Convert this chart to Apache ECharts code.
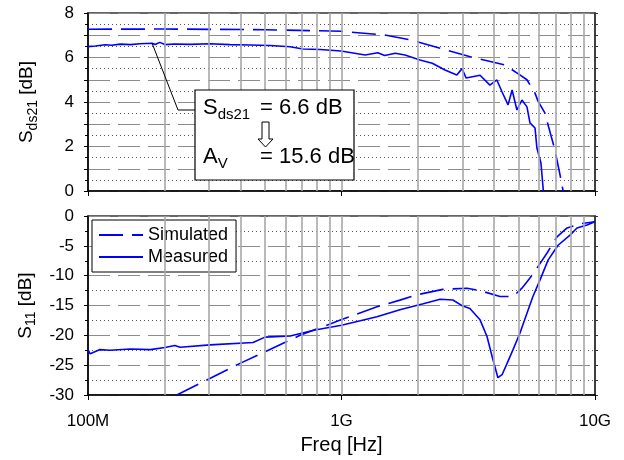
<!DOCTYPE html>
<html>
<head>
<meta charset="utf-8">
<script src="https://cdn.jsdelivr.net/npm/echarts@6/dist/echarts.min.js"></script>
<style>
html, body { margin: 0; padding: 0; background: #fff; }
#chart { width: 624px; height: 460px; }
</style>
</head>
<body>
<div id="chart"></div>
<script>
// S_ds21 (top panel)
var simTopFreq = [1e8, 2e8, 5e8, 1e9, 1.5e9, 1.86e9, 2.56e9, 3.3e9, 4.42e9, 5.0e9, 5.39e9, 5.8e9, 5.96e9, 6.35e9, 6.53e9, 6.95e9, 7.28e9, 7.6e9];
var simTopVal  = [7.27, 7.28, 7.25, 7.18, 7.0, 6.8, 6.35, 6.0, 5.66, 5.25, 5.0, 4.4, 4.04, 3.5, 2.97, 1.84, 0.72, -0.4];

var measTopFreq = [1e8, 1.07e8, 1.17e8, 1.24e8, 1.34e8, 1.47e8, 1.6e8, 1.79e8, 1.84e8, 1.92e8, 2.01e8, 2.2e8, 2.52e8, 3.03e8, 3.63e8, 4.36e8, 5.22e8, 6.27e8, 7.05e8, 8.23e8, 9.95e8,
                   1.24e9, 1.39e9, 1.48e9, 1.63e9, 1.78e9, 2.04e9, 2.28e9, 2.56e9, 2.85e9, 2.99e9, 3.1e9, 3.52e9, 3.85e9, 4.1e9, 4.3e9, 4.54e9, 4.71e9, 4.92e9, 5.15e9, 5.39e9, 5.54e9, 5.8e9, 5.9e9, 6.12e9, 6.3e9];
var measTopVal  = [6.49, 6.52, 6.57, 6.55, 6.6, 6.58, 6.62, 6.64, 6.58, 6.68, 6.58, 6.61, 6.59, 6.62, 6.58, 6.56, 6.54, 6.48, 6.38, 6.36, 6.29,
                   6.11, 6.21, 6.09, 6.19, 6.11, 5.89, 5.74, 5.44, 5.21, 5.5, 5.08, 5.2, 4.76, 4.99, 4.45, 3.87, 4.54, 3.64, 4.09, 3.78, 3.06, 2.83, 1.93, 1.26, -0.4];

// S11 (bottom panel)
var simBotFreq = [2.24e8, 3.98e8, 6.86e8, 9.95e8, 1.38e9, 1.7e9, 1.99e9, 2.51e9, 3.13e9, 3.52e9, 4.22e9, 4.75e9, 5.15e9, 5.54e9, 5.91e9, 6.47e9, 7.08e9, 7.76e9, 8.74e9, 1e10];
var simBotVal  = [-30, -24.7, -20.0, -17.4, -15.2, -14.1, -13.2, -12.3, -12.1, -12.5, -13.5, -13.5, -12.1, -10.4, -8.7, -6.2, -3.5, -2.0, -1.3, -0.95];

var measBotFreq = [1e8, 1.02e8, 1.11e8, 1.22e8, 1.47e8, 1.76e8, 2.01e8, 2.2e8, 2.31e8, 3.03e8, 4.48e8, 4.99e8, 6.27e8, 7.86e8, 1e9, 1.38e9, 1.7e9, 2.1e9, 2.45e9, 2.75e9, 3.01e9, 3.21e9,
                   3.52e9, 3.75e9, 3.93e9, 4.14e9, 4.3e9, 4.5e9, 4.75e9, 5.06e9, 5.39e9, 5.69e9, 6.07e9, 6.53e9, 7.15e9, 7.97e9, 8.49e9, 9.3e9, 1e10];
var measBotVal  = [-22.4, -23.1, -22.4, -22.5, -22.3, -22.4, -22.05, -21.7, -22.0, -21.6, -21.2, -20.3, -20.1, -19.1, -18.3, -16.9, -15.7, -14.7, -13.95, -14.07, -15.1, -15.5,
                   -17.4, -20.2, -23.6, -27.1, -26.6, -24.7, -22.4, -19.6, -16.3, -13.5, -10.7, -7.4, -4.9, -3.2, -2.0, -1.5, -0.95];

// vertical grid positions (2..9 x decade)
var gridFreqs = [2e8, 3e8, 4e8, 5e8, 6e8, 7e8, 8e8, 9e8, 1e9, 2e9, 3e9, 4e9, 5e9, 6e9, 7e9, 8e9, 9e9];
var xTickLabels = { 1e8: '100M', 1e9: '1G', 1e10: '10G' };

var font = 'Liberation Sans, Arial, sans-serif';
var blue = '#0000ff';

function zip(xs, ys) {
	var out = [];
	for (var i = 0; i < xs.length; i++) out.push([xs[i], ys[i]]);
	return out;
}

function vLines() {
	var d = [];
	for (var i = 0; i < gridFreqs.length; i++) d.push({ xAxis: gridFreqs[i] });
	return d;
}

var myChart = echarts.init(document.getElementById('chart'));

var xBase = function(idx, showLabel) {
	return {
		type: 'log', logBase: 10, gridIndex: idx, min: 1e8, max: 1e10,
		axisLine: { show: true, onZero: false, lineStyle: { color: '#000', width: 1.5 } },
		axisTick: { show: true, length: 5, lineStyle: { color: '#000' } },
		splitLine: { show: false },
		axisLabel: {
			show: showLabel, margin: 18, color: '#000', fontSize: 17, fontFamily: font,
			formatter: function(v) { return xTickLabels[Math.round(v)] || ''; }
		},
		name: showLabel ? 'Freq [Hz]' : '',
		nameLocation: 'middle', nameGap: 40,
		nameTextStyle: { color: '#000', fontSize: 20, fontFamily: font }
	};
};

var yBase = function(idx, min, max, step, labelStep, name) {
	return {
		type: 'value', gridIndex: idx, min: min, max: max, interval: step,
		axisLine: { show: true, lineStyle: { color: '#000', width: 1.5 } },
		axisTick: { show: true, length: 4, lineStyle: { color: '#000' } },
		minorTick: { show: true, splitNumber: 2, length: 3, lineStyle: { color: '#000' } },
		splitLine: { show: true, lineStyle: { color: '#8c8c8c', width: 1.2, type: [22, 8] } },
		minorSplitLine: { show: true, lineStyle: { color: '#555', width: 1, type: [1, 3] } },
		axisLabel: {
			margin: 14, color: '#000', fontSize: 17, fontFamily: font,
			formatter: function(v) { return (Math.round(v) % labelStep === 0) ? String(v) : ''; }
		},
		name: name,
		nameLocation: 'middle', nameGap: 48,
		nameTextStyle: {
			color: '#000', fontFamily: font,
			rich: {
				m: { fontSize: 19, lineHeight: 26, fontFamily: font, color: '#000' },
				s: { fontSize: 14, lineHeight: 13, verticalAlign: 'bottom', fontFamily: font, color: '#000' }
			}
		}
	};
};

var yRight = function(idx, min, max, step) {
	return {
		type: 'value', gridIndex: idx, min: min, max: max, interval: step, position: 'right',
		axisLine: { show: true, lineStyle: { color: '#333', width: 1.5 } },
		axisTick: { show: true, length: 3, lineStyle: { color: '#333' } },
		minorTick: { show: true, splitNumber: 2, length: 3, lineStyle: { color: '#333' } },
		splitLine: { show: false },
		axisLabel: { show: false }
	};
};

var subRich = {
	m: { fontSize: 22, lineHeight: 28, fontFamily: font },
	s: { fontSize: 15, lineHeight: 13, verticalAlign: 'bottom', fontFamily: font }
};

var option = {
	animation: false,
	backgroundColor: '#fff',
	grid: [
		{ left: 88, right: 29, top: 13, height: 178, show: true, borderColor: '#333', borderWidth: 1.5 },
		{ left: 88, right: 29, top: 216, height: 179, show: true, borderColor: '#333', borderWidth: 1.5 }
	],
	xAxis: [xBase(0, false), xBase(1, true)],
	yAxis: [
		yBase(0, 0, 8, 1, 2, '{m|S}{s|ds21}{m| [dB]}'),
		yBase(1, -30, 0, 5, 5, '{m|S}{s|11}{m| [dB]}'),
		yRight(0, 0, 8, 1),
		yRight(1, -30, 0, 5)
	],
	legend: {
		data: ['Simulated', 'Measured'],
		orient: 'vertical', left: 92, top: 220,
		itemWidth: 44, itemHeight: 14, itemGap: 4,
		padding: [6, 8, 6, 6],
		borderColor: '#000', borderWidth: 1, backgroundColor: '#fff',
		itemStyle: { opacity: 0 },
		textStyle: { color: '#000', fontSize: 18, fontFamily: font }
	},
	series: [
		{
			name: 'grid-top', type: 'line', xAxisIndex: 0, yAxisIndex: 0, data: [], z: 1, silent: true,
			markLine: { silent: true, symbol: 'none', label: { show: false },
				lineStyle: { color: '#a8a8a8', width: 1.6, type: 'solid' }, data: vLines() }
		},
		{
			name: 'grid-bot', type: 'line', xAxisIndex: 1, yAxisIndex: 1, data: [], z: 1, silent: true,
			markLine: { silent: true, symbol: 'none', label: { show: false },
				lineStyle: { color: '#a8a8a8', width: 1.6, type: 'solid' }, data: vLines() }
		},
		{
			name: 'Simulated', type: 'line', xAxisIndex: 0, yAxisIndex: 0, showSymbol: false, symbol: 'none',
			lineStyle: { color: blue, width: 1.6, type: [24, 9] }, itemStyle: { color: blue },
			data: zip(simTopFreq, simTopVal)
		},
		{
			name: 'Measured', type: 'line', xAxisIndex: 0, yAxisIndex: 0, showSymbol: false, symbol: 'none',
			lineStyle: { color: blue, width: 1.6 }, itemStyle: { color: blue },
			data: zip(measTopFreq, measTopVal)
		},
		{
			name: 'Simulated', type: 'line', xAxisIndex: 1, yAxisIndex: 1, showSymbol: false, symbol: 'none',
			lineStyle: { color: blue, width: 1.6, type: [24, 9] }, itemStyle: { color: blue },
			data: zip(simBotFreq, simBotVal)
		},
		{
			name: 'Measured', type: 'line', xAxisIndex: 1, yAxisIndex: 1, showSymbol: false, symbol: 'none',
			lineStyle: { color: blue, width: 1.6 }, itemStyle: { color: blue },
			data: zip(measBotFreq, measBotVal)
		}
	],
	graphic: [
		{ type: 'polyline', z: 50, shape: { points: [[152, 43], [178, 110], [195, 110]] }, style: { stroke: '#000', lineWidth: 1, fill: null } },
		{ type: 'rect', z: 50, shape: { x: 195, y: 90, width: 159, height: 90 }, style: { fill: '#fff', stroke: '#000', lineWidth: 1.2 } },
		{ type: 'text', z: 51, x: 203, y: 108, style: { text: '{m|S}{s|ds21}', verticalAlign: 'middle', fill: '#000', rich: subRich } },
		{ type: 'text', z: 51, x: 260, y: 108, style: { text: '= 6.6 dB', verticalAlign: 'middle', fill: '#000', fontSize: 22, fontFamily: font } },
		{ type: 'text', z: 51, x: 203, y: 157, style: { text: '{m|A}{s|V}', verticalAlign: 'middle', fill: '#000', rich: subRich } },
		{ type: 'text', z: 51, x: 260, y: 157, style: { text: '= 15.6 dB', verticalAlign: 'middle', fill: '#000', fontSize: 22, fontFamily: font } },
		{ type: 'polygon', z: 51, shape: { points: [[262, 122], [269, 122], [269, 139], [273, 139], [265.5, 147], [258, 139], [262, 139]] },
			style: { fill: '#fff', stroke: '#000', lineWidth: 1 } }
	]
};
myChart.setOption(option);
</script>
</body>
</html>
